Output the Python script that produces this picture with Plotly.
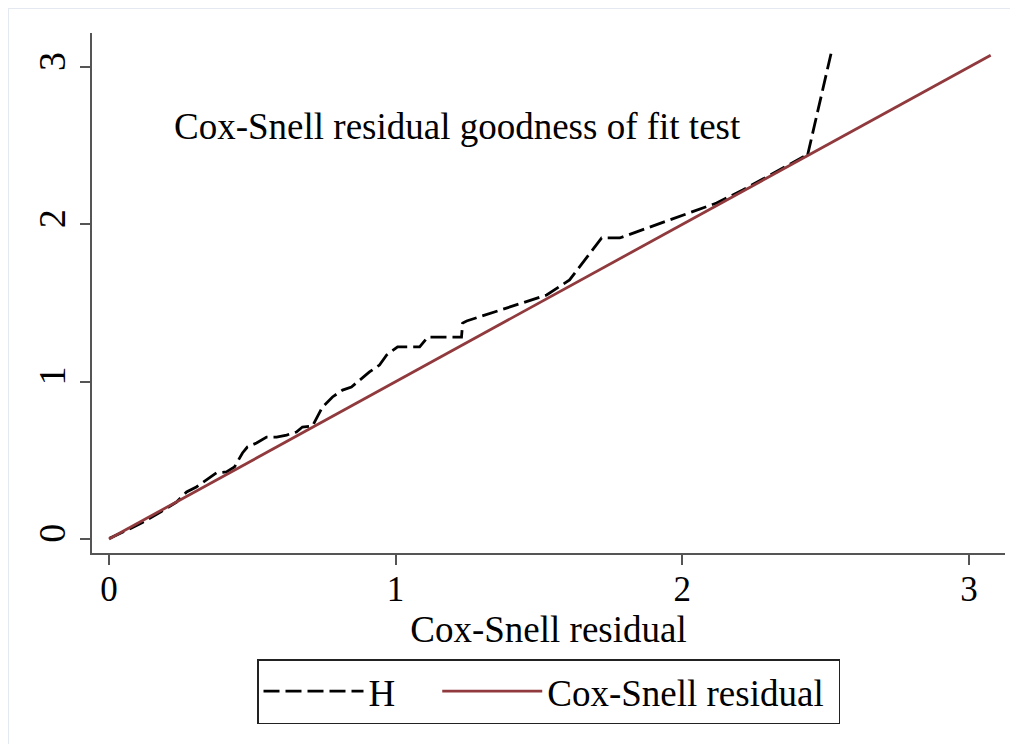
import plotly.graph_objs as go

# Cox-Snell residuals (sorted) and Nelson-Aalen cumulative hazard H
cs_resid = [0.002, 0.037, 0.079, 0.117, 0.152, 0.183, 0.236, 0.271, 0.305, 0.340,
            0.375, 0.410, 0.438, 0.466, 0.483, 0.515, 0.550, 0.585, 0.620, 0.654,
            0.675, 0.710, 0.745, 0.780, 0.815, 0.846, 0.881, 0.909, 0.944, 0.969,
            1.007, 1.084, 1.112, 1.230, 1.234, 1.248, 1.527, 1.607, 1.719, 1.782,
            2.120, 2.211, 2.307, 2.421, 2.435, 2.522]
cum_haz = [0.004, 0.032, 0.070, 0.105, 0.140, 0.175, 0.235, 0.299, 0.331, 0.375,
           0.420, 0.426, 0.458, 0.547, 0.585, 0.610, 0.648, 0.648, 0.661, 0.680,
           0.712, 0.718, 0.839, 0.903, 0.947, 0.966, 1.017, 1.062, 1.106, 1.170,
           1.221, 1.221, 1.284, 1.284, 1.373, 1.386, 1.551, 1.647, 1.914, 1.914,
           2.136, 2.219, 2.314, 2.428, 2.422, 3.109]

# reference line: residual against itself
ref_resid = [0.0, 0.5, 1.0, 1.5, 2.0, 2.5, 3.076]

tick_vals = [0, 1, 2, 3]
tick_text = ["0", "1", "2", "3"]

FONT = "Liberation Serif"
MAROON = "#913a3e"
AXIS = "#555555"
NB = "\u00a0"

fig = go.Figure()
fig.add_trace(go.Scatter(x=cs_resid, y=cum_haz, mode="lines", name="H" + NB * 4,
                         line=dict(color="black", width=2.8, dash="16px,6px")))
fig.add_trace(go.Scatter(x=ref_resid, y=ref_resid, mode="lines",
                         name="Cox-Snell residual" + NB,
                         line=dict(color=MAROON, width=2.8)))

fig.update_layout(
  width=1018, height=744,
  margin=dict(l=84, r=21, t=25, b=199),
  paper_bgcolor="white", plot_bgcolor="white",
  font=dict(family=FONT, size=35, color="black"),
  showlegend=True,
  legend=dict(orientation="h", x=0.5, xanchor="center", y=-0.204, yanchor="top",
              bordercolor="#222", borderwidth=1.5, itemwidth=100,
              font=dict(size=37), traceorder="normal"),
  annotations=[dict(text="Cox-Snell residual goodness of fit test", x=1.216, y=2.62,
                    xref="x", yref="y", showarrow=False, font=dict(size=37))],
  shapes=[
    dict(type="line", xref="paper", yref="paper", x0=-0.092, x1=1.03, y0=1.048, y1=1.048,
         line=dict(color="#e4e8f0", width=2)),
    dict(type="line", xref="paper", yref="paper", x0=-0.092, x1=-0.092, y0=-0.4, y1=1.048,
         line=dict(color="#e4e8f0", width=2)),
  ],
)

fig.update_xaxes(range=[-0.059, 3.126], tickvals=tick_vals, ticktext=tick_text,
                 ticks="outside", ticklen=10, tickwidth=1.5, tickcolor=AXIS,
                 tickfont=dict(size=35), ticklabelstandoff=-6, automargin=False,
                 showline=True, linecolor=AXIS, linewidth=1.5, showgrid=False,
                 zeroline=False, title=dict(text="Cox-Snell residual", standoff=0,
                                            font=dict(size=37)))
fig.update_yaxes(range=[-0.089, 3.217], tickvals=tick_vals, ticktext=tick_text,
                 ticks="outside", ticklen=10, tickwidth=1.5, tickcolor=AXIS,
                 tickfont=dict(size=38), tickangle=-90, automargin=False,
                 showline=True, linecolor=AXIS, linewidth=1.5,
                 showgrid=False, zeroline=False)

fig.write_html("out.html")
